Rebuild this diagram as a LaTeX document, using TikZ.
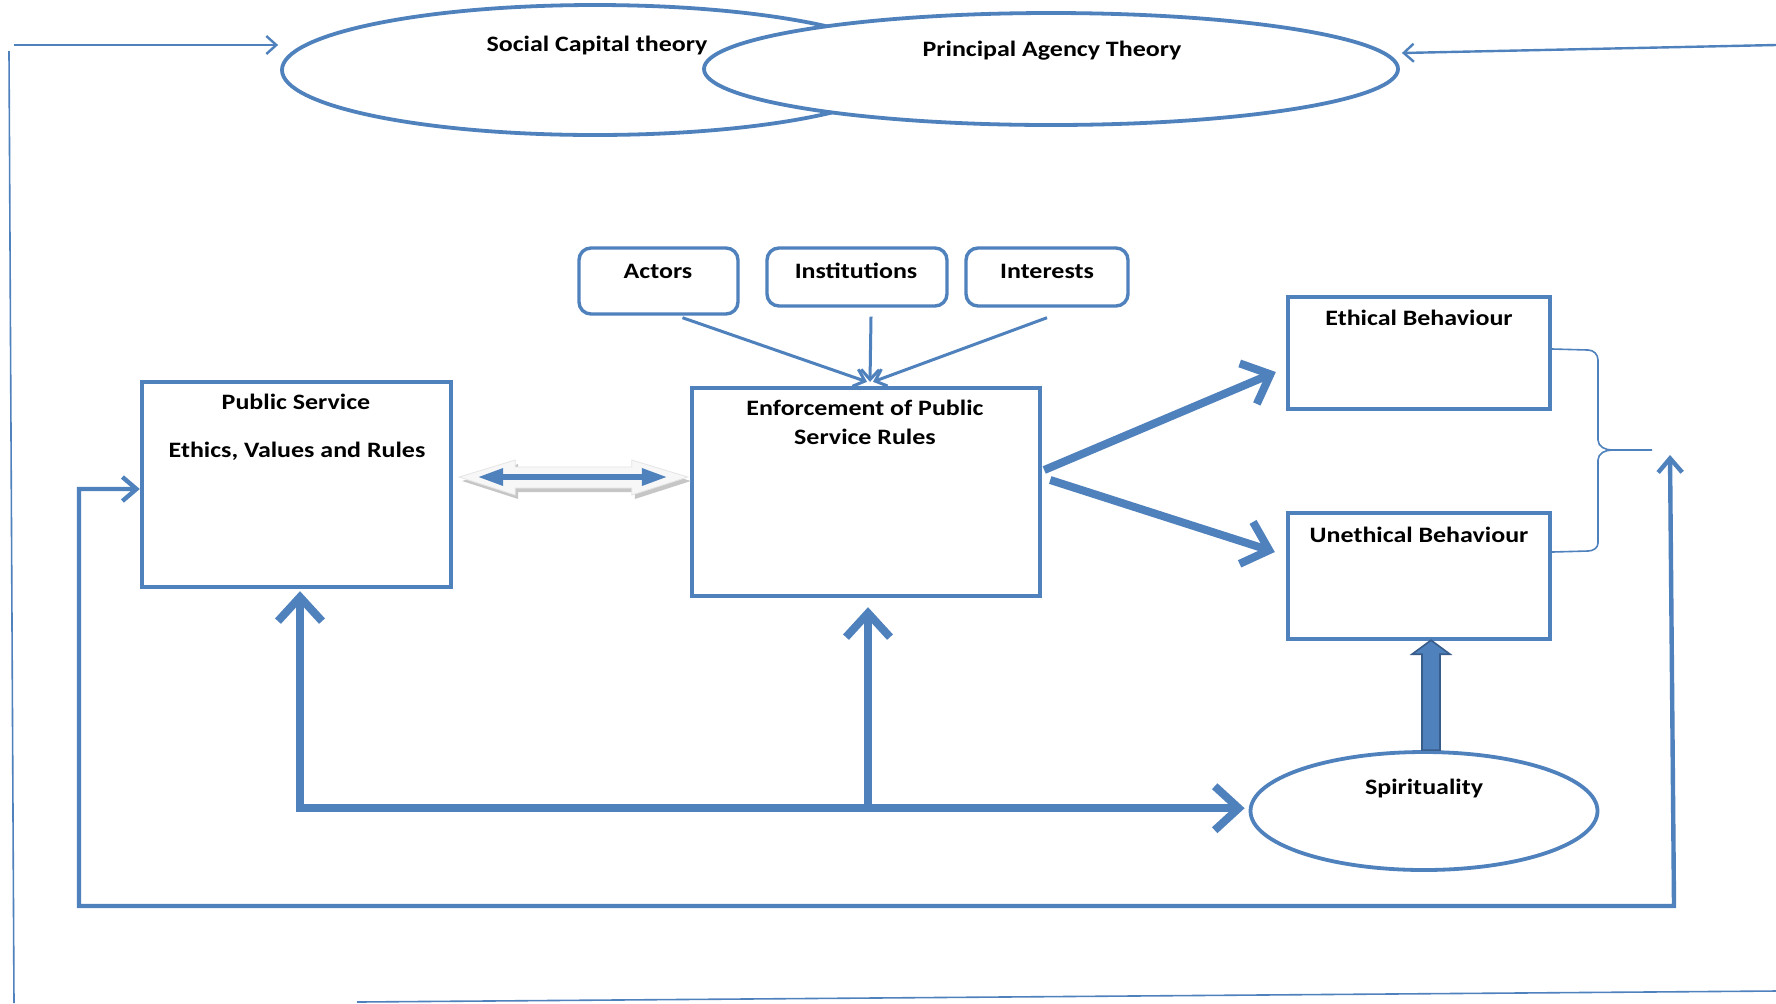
\documentclass[tikz,border=0pt]{standalone}
\usepackage{fontspec}
\setmainfont{Carlito}[FakeStretch=1.18]
\usetikzlibrary{arrows.meta,shapes.geometric,calc}
\definecolor{ob}{HTML}{4F81BD}
\definecolor{obd}{HTML}{385D8A}
\begin{document}
\begin{tikzpicture}[x=0.5pt,y=-0.5pt,
  box/.style={draw=ob, line width=2.2pt, fill=white, inner sep=0, rectangle},
  rbox/.style={draw=ob, line width=1.7pt, fill=white, inner sep=0, rectangle, rounded corners=6pt},
  ell/.style={draw=ob, line width=1.9pt, ellipse, inner sep=0},
  lbl/.style={font=\bfseries\fontsize{11}{13}\selectfont, inner sep=0, text height=0.65em, text depth=0pt, anchor=center},
  thinl/.style={draw=ob, line width=0.8pt},
  thinar/.style={draw=ob, line width=1.2pt, -{Straight Barb[length=5pt,width=9pt]}},
  smallar/.style={draw=ob, line width=1.5pt, -{Straight Barb[length=5pt,width=9pt]}},
  thk/.style={draw=ob, line width=4pt, line join=miter},
  medl/.style={draw=ob, line width=2.2pt},
  barbbig/.tip={Straight Barb[length=12pt,width=22pt]},
  barbmed/.tip={Straight Barb[length=7pt,width=12pt]}
]
\useasboundingbox (0,0) rectangle (1776,1003);
\fill[white] (0,0) rectangle (1776,1003);

% theory ellipses
\node[ell, minimum width=313pt, minimum height=65pt] (soc) at (595,70) {};
\node[ell, fill=white, minimum width=347pt, minimum height=56pt] (pat) at (1051,69) {};
\node[lbl] (socT) at (597,45) {Social Capital theory};
\node[lbl] (patT) at (1052,50) {Principal Agency Theory};

% frame lines
\coordinate (tl) at (14,45);
\coordinate (tr) at (1776,45);
\coordinate (lt) at (9,51);
\coordinate (lb) at (14,1003);
\coordinate (bl) at (357,1002);
\coordinate (br) at (1776,991);
\draw[thinl] (lt) -- (lb);
\draw[thinl] (bl) -- (br);
\draw[thinar] (tl) -- ($(soc.west)+(-2,-25)$);
\draw[thinar] (tr) -- ($(pat.east)+(2,-16)$);

% top boxes
\node[rbox, minimum width=79.5pt, minimum height=33pt] (act) at (658.5,281) {};
\node[rbox, minimum width=90pt, minimum height=29pt] (inst) at (857,277) {};
\node[rbox, minimum width=81pt, minimum height=29pt] (intr) at (1047,277) {};
\node[lbl] (actT) at (658,272) {Actors};
\node[lbl] (instT) at (856,272) {Institutions};
\node[lbl] (intrT) at (1047,272) {Interests};

% main boxes
\node[box, minimum width=154.5pt, minimum height=102.5pt] (ps) at (296.5,484.5) {};
\node[box, minimum width=174pt, minimum height=104pt] (enf) at (866,492) {};
\node[box, minimum width=131pt, minimum height=56pt] (eth) at (1419,353) {};
\node[box, minimum width=131pt, minimum height=63pt] (uneth) at (1419,576) {};
\node[ell, minimum width=173.5pt, minimum height=59pt] (spirit) at (1424,811) {};

\node[lbl] (psT1) at (296,403) {Public Service};
\node[lbl] (psT2) at (297,451) {Ethics, Values and Rules};
\node[lbl] (enfT1) at (865,409) {Enforcement of Public};
\node[lbl] (enfT2) at (865,438) {Service Rules};
\node[lbl] (ethT) at (1419,319) {Ethical Behaviour};
\node[lbl] (unethT) at (1419,536) {Unethical Behaviour};
\node[lbl] (spT) at (1424,788) {Spirituality};

% arrows from top boxes
\coordinate (conv) at ($(enf.north)+(4,-4)$);
\draw[smallar] ($(act.south)+(24,2)$) -- ($(conv)+(-3,0)$);
\draw[smallar] ($(inst.south)+(14,9)$) -- (conv);
\draw[smallar] ($(intr.south)+(0,10)$) -- ($(conv)+(3,0)$);

% double arrow between Public Service and Enforcement
\coordinate (dl) at ($(ps.east)+(6,-7.5)$);
\coordinate (dr) at ($(enf.west)+(-2,-15)$);
\fill[gray!45] ($(dl)+(3,4)$) -- ($(dl)+(59,-13)$) -- ($(dl)+(59,-6)$) -- ($(dr)+(-53,-6)$) -- ($(dr)+(-53,-13)$) -- ($(dr)+(3,4)$) -- ($(dr)+(-53,22)$) -- ($(dr)+(-53,15)$) -- ($(dl)+(59,15)$) -- ($(dl)+(59,22)$) -- cycle;
\filldraw[fill=gray!6, draw=gray!20, line width=0.4pt] (dl) -- ($(dl)+(56,-17)$) -- ($(dl)+(56,-10)$) -- ($(dr)+(-56,-10)$) -- ($(dr)+(-56,-17)$) -- (dr) -- ($(dr)+(-56,18)$) -- ($(dr)+(-56,11)$) -- ($(dl)+(56,11)$) -- ($(dl)+(56,18)$) -- cycle;
\draw[ob, line width=3pt, {Triangle[length=13pt,width=8pt]}-{Triangle[length=13pt,width=8pt]}] ($(dl)+(18,0)$) -- ($(dr)+(-20,0)$);

% arrows to Ethical / Unethical
\draw[thk, -{barbbig}] ($(enf.east)+(2,-22)$) -- ($(eth.west)+(-10,19)$);
\draw[thk, -{barbbig}] ($(enf.east)+(8,-12)$) -- ($(uneth.west)+(-11,-24)$);

% bottom thick connectors
\coordinate (j1) at ($(ps.south)+(3.5,219)$);
\coordinate (j2) at ($(enf.south)+(2,210)$);
\coordinate (sp) at (spirit.west |- j1);
\draw[thk, {barbbig}-{barbbig}] ($(ps.south)+(3.5,2)$) -- (j1) -- ($(sp)+(-4,0)$);
\draw[thk, -{barbbig}] (j2) -- ($(enf.south)+(2,9)$);

% block arrow Spirituality -> Unethical
\coordinate (bb) at ($(spirit.north)+(7,0)$);
\coordinate (bt) at ($(uneth.south)+(12,-1)$);
\filldraw[fill=ob, draw=obd, line width=0.8pt] ($(bb)+(-9,0)$) -- ($(bt)+(-9,14)$) -- ($(bt)+(-19,14)$) -- (bt) -- ($(bt)+(19,14)$) -- ($(bt)+(9,14)$) -- ($(bb)+(9,0)$) -- cycle;

% brace
\draw[ob, line width=0.8pt] ($(eth.east)+(0,-4)$) -- (1588,350) to[out=0,in=90] (1598,360) -- (1598,440) to[out=-90,in=180] (1612,450) -- (1652,450);
\draw[ob, line width=0.8pt] ($(uneth.east)+(0,-24)$) -- (1588,551) to[out=0,in=-90] (1598,543) -- (1598,460) to[out=90,in=180] (1612,450);

% outer feedback loop
\coordinate (rt) at (1670,455);
\coordinate (rb) at (1674,906);
\coordinate (lbc) at (79,906);
\coordinate (ltc) at (79,489);
\draw[medl, {barbmed}-{barbmed}] (rt) -- (rb) -- (lbc) -- (ltc) -- ($(ps.west)+(0,4.5)$);
\end{tikzpicture}
\end{document}
